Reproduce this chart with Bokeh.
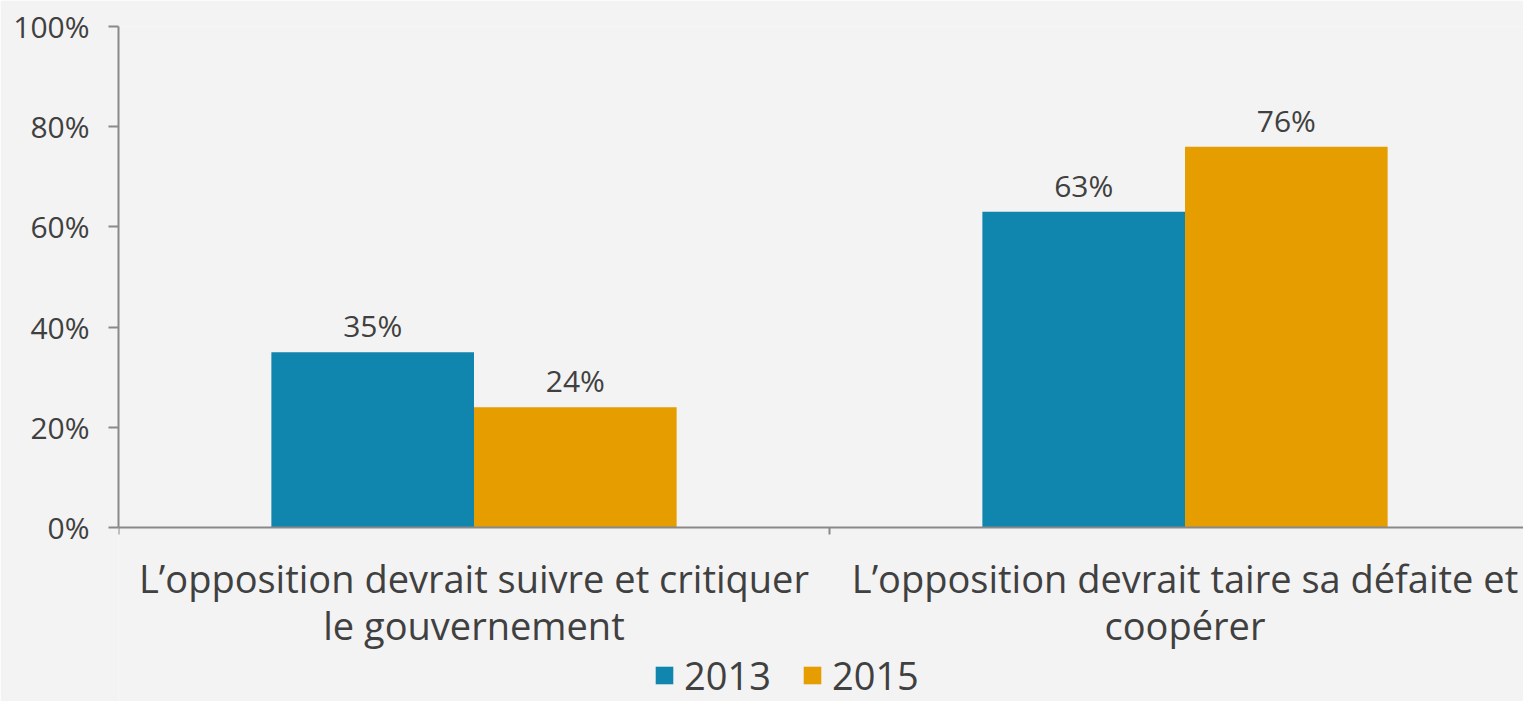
from bokeh.plotting import figure
from bokeh.models import ColumnDataSource, FixedTicker, Range1d, LabelSet, Legend, LegendItem
from bokeh.core.properties import value
from bokeh.embed import file_html
from bokeh.resources import INLINE

categories = ["L\u2019opposition devrait suivre et critiquer\nle gouvernement",
              "L\u2019opposition devrait taire sa d\u00e9faite et\ncoop\u00e9rer"]
series = ["2013", "2015"]
values_2013 = [35, 63]
values_2015 = [24, 76]
yticks = [0, 20, 40, 60, 80, 100]
colors = ["#1085ad", "#e69d00"]

FONT = "Open Sans"
TXT = "#404040"
AX = "#898989"

W, H = 1523, 701
LEFT, TOP = 118, 26
Y0_PX = 527          # pixel row of the 0% line
PX_PER_UNIT = (Y0_PX - TOP) / 100.0
ymin = -(H - Y0_PX) / PX_PER_UNIT

p = figure(width=W, height=H, output_backend="svg", toolbar_location=None,
           x_range=Range1d(0, (W - LEFT) / 711), y_range=Range1d(ymin, 100),
           min_border_left=LEFT, min_border_right=0, min_border_top=TOP, min_border_bottom=0,
           background_fill_color="#f3f3f3", border_fill_color="#f3f3f3")
p.outline_line_color = None
p.grid.visible = False

centers = [i + 0.5 for i in range(len(categories))]
bw = 0.285
renderers = []
for k, (vals, col) in enumerate(zip([values_2013, values_2015], colors)):
    xs = [c + (k - 0.5) * bw for c in centers]
    src = ColumnDataSource(dict(x=xs, top=vals, lab=[f"{v}%" for v in vals]))
    r = p.vbar(x="x", top="top", width=bw, source=src, fill_color=col, line_color=None)
    renderers.append(r)
    p.add_layout(LabelSet(x="x", y="top", text="lab", source=src, text_align="center",
                          text_baseline="bottom", y_offset=6, text_font=value(FONT),
                          text_font_size="30px", text_color=TXT))

# axes
xa = p.xaxis[0]
xa.fixed_location = 0
xa.ticker = FixedTicker(ticks=centers, minor_ticks=[0, 1, 2])
xa.major_label_overrides = {c: lab for c, lab in zip(centers, categories)}
xa.major_tick_line_color = None
xa.major_tick_out = 0
xa.minor_tick_in = 0
xa.minor_tick_out = 7
xa.minor_tick_line_color = AX
xa.minor_tick_line_width = 2
xa.axis_line_color = AX
xa.axis_line_width = 2
xa.major_label_text_font = FONT
xa.major_label_text_font_size = "38px"
xa.major_label_text_color = TXT
xa.major_label_text_line_height = 0.91
xa.major_label_standoff = 17

ya = p.yaxis[0]
ya.bounds = (0, 100)
ya.ticker = FixedTicker(ticks=yticks)
ya.major_label_overrides = {t: f"{t}%" for t in yticks}
ya.minor_tick_line_color = None
ya.major_tick_in = 0
ya.major_tick_out = 10
ya.major_tick_line_color = AX
ya.major_tick_line_width = 2
ya.axis_line_color = AX
ya.axis_line_width = 2
ya.major_label_text_font = FONT
ya.major_label_text_font_size = "30px"
ya.major_label_text_color = TXT
ya.major_label_standoff = 19

legend = Legend(items=[LegendItem(label=s, renderers=[r]) for s, r in zip(series, renderers)],
                orientation="horizontal", location=(535, 0),
                background_fill_alpha=0, border_line_color=None,
                label_text_font=FONT, label_text_font_size="38px", label_text_color=TXT,
                glyph_width=22, glyph_height=22, spacing=30, label_standoff=9,
                padding=0, margin=0)
p.add_layout(legend, "center")

open("out.html", "w").write(file_html(p, INLINE))
